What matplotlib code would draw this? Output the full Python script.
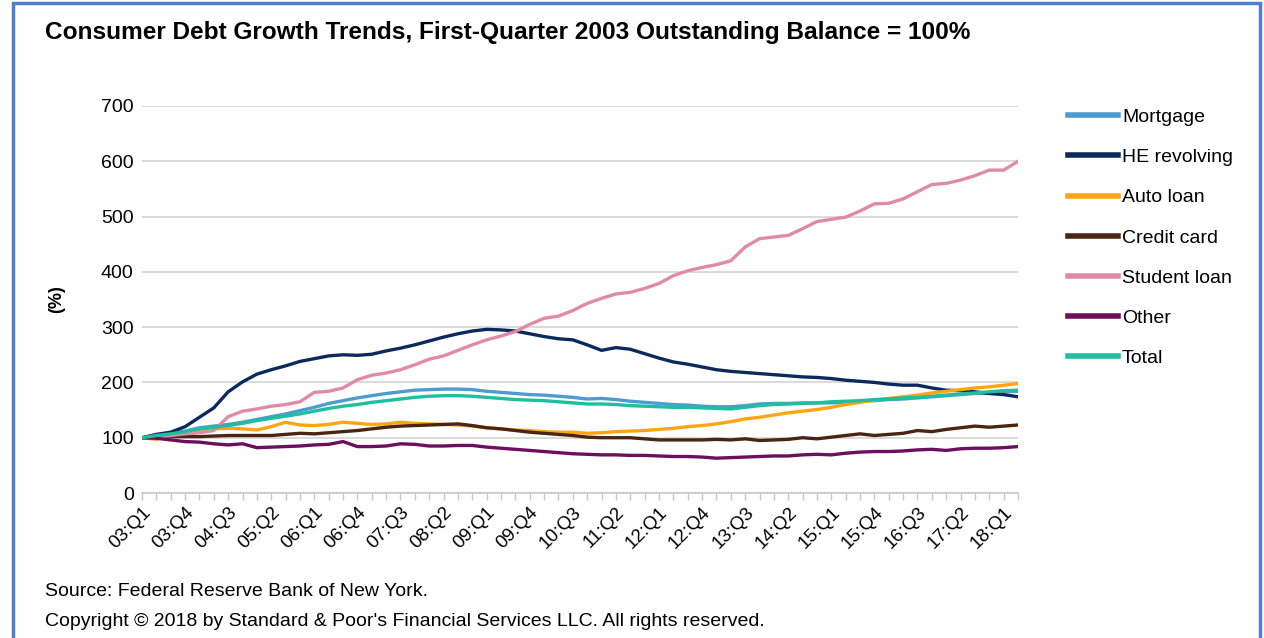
import matplotlib
matplotlib.use("Agg")
import matplotlib.pyplot as plt
from matplotlib.patches import Rectangle

plt.rcParams['font.family'] = ['Liberation Sans', 'DejaVu Sans']

# quarters 03:Q1 .. 18:Q2
quarters = [f"{y:02d}:Q{q}" for y in range(3, 19) for q in range(1, 5)][:62]

mortgage = [100, 104, 108, 112, 118, 121, 124, 128, 133, 138, 143, 149, 155, 162, 167, 172,
            176, 180, 183, 186, 187, 188, 188, 187, 184, 182, 180, 178, 177, 175, 173, 170,
            171, 169, 166, 164, 162, 160, 159, 157, 156, 156, 158, 161, 162, 162, 163, 163,
            163, 164, 166, 167, 169, 170, 172, 174, 176, 178, 180, 181, 183, 184]
he_revolving = [100, 106, 110, 120, 137, 154, 183, 201, 215, 223, 230, 238, 243, 248, 250, 249,
                251, 257, 262, 268, 275, 282, 288, 293, 296, 295, 293, 288, 283, 279, 277, 268,
                258, 263, 260, 252, 244, 237, 233, 228, 223, 220, 218, 216, 214, 212, 210, 209,
                207, 204, 202, 200, 197, 195, 195, 190, 186, 185, 183, 180, 178, 174]
auto_loan = [100, 97, 104, 108, 113, 116, 117, 116, 114, 120, 128, 123, 122, 124, 128, 126,
             124, 125, 128, 126, 125, 124, 123, 121, 118, 116, 114, 113, 111, 110, 110, 108,
             109, 111, 112, 113, 115, 117, 120, 122, 125, 129, 134, 137, 141, 145, 148, 151,
             155, 160, 164, 168, 171, 174, 177, 181, 184, 187, 190, 192, 195, 198]
credit_card = [100, 101, 102, 102, 102, 103, 104, 104, 104, 104, 106, 108, 107, 109, 111, 113,
               116, 119, 121, 122, 123, 124, 125, 122, 118, 116, 113, 110, 108, 106, 104, 101,
               100, 100, 100, 98, 96, 96, 96, 96, 97, 96, 98, 95, 96, 97, 100, 98,
               101, 104, 107, 104, 106, 108, 113, 111, 115, 118, 121, 119, 121, 123]
student_loan = [100, 101, 104, 107, 109, 113, 138, 148, 152, 157, 160, 165, 182, 184, 190, 205,
                213, 217, 223, 232, 242, 248, 258, 268, 277, 284, 292, 305, 316, 320, 330, 343,
                352, 360, 363, 370, 379, 393, 402, 408, 413, 420, 445, 460, 463, 466, 478, 491,
                495, 499, 510, 523, 524, 532, 545, 558, 560, 566, 574, 584, 584, 600]
other = [100, 99, 96, 93, 92, 89, 87, 89, 82, 83, 84, 85, 87, 88, 93, 84,
         84, 85, 89, 88, 85, 85, 86, 86, 83, 81, 79, 77, 75, 73, 71, 70,
         69, 69, 68, 68, 67, 66, 66, 65, 63, 64, 65, 66, 67, 67, 69, 70,
         69, 72, 74, 75, 75, 76, 78, 79, 77, 80, 81, 81, 82, 84]
total = [100, 104, 107, 111, 116, 119, 122, 126, 131, 135, 139, 143, 148, 153, 157, 160,
         164, 167, 170, 173, 175, 176, 176, 175, 173, 171, 169, 168, 167, 165, 163, 161,
         161, 160, 158, 157, 156, 155, 155, 154, 153, 152, 155, 158, 160, 161, 162, 163,
         165, 166, 167, 169, 170, 172, 173, 175, 177, 179, 181, 183, 185, 186]

series = [("Mortgage", mortgage, "#4f9bd0"),
          ("HE revolving", he_revolving, "#0b2a5c"),
          ("Auto loan", auto_loan, "#ffa514"),
          ("Credit card", credit_card, "#4a2511"),
          ("Student loan", student_loan, "#e08aa8"),
          ("Other", other, "#6b0f5e"),
          ("Total", total, "#1dbf9f")]

fig = plt.figure(figsize=(12.64, 6.38), dpi=100)
ax = fig.add_axes([142 / 1264, 1 - 493 / 638, 876 / 1264, 387 / 638])

x = list(range(len(quarters)))
for name, vals, col in series:
    ax.plot(x, vals, color=col, lw=2.4, label=name)

ax.set_xlim(0, len(quarters) - 1)
ax.set_ylim(0, 700)
ax.set_yticks(range(0, 701, 100))
ax.grid(axis='y', color='#d4d4d4', lw=1.2)
ax.set_axisbelow(True)
for s in ['top', 'right', 'left']:
    ax.spines[s].set_visible(False)
ax.spines['bottom'].set_color('#c8c8c8')
ax.spines['bottom'].set_linewidth(1.2)
ax.tick_params(axis='y', length=0, labelsize=14, pad=6)
ax.set_xticks(x)
ax.set_xticklabels([q if i % 3 == 0 else '' for i, q in enumerate(quarters)],
                   rotation=45, ha='right', rotation_mode='anchor', fontsize=13.5)
ax.tick_params(axis='x', length=5, color='#c8c8c8', width=1, pad=3)
ax.set_ylabel("(%)", fontsize=13, fontweight='bold', labelpad=26)

fig.text(45 / 1264, 1 - 32 / 638, "Consumer Debt Growth Trends, First-Quarter 2003 Outstanding Balance = 100%",
         fontsize=17.6, fontweight='bold', va='center', ha='left')
fig.text(45 / 1264, 1 - 592 / 638, "Source: Federal Reserve Bank of New York.",
         fontsize=14, va='center', ha='left')
fig.text(45 / 1264, 1 - 621 / 638,
         "Copyright \u00a9 2018 by Standard & Poor's Financial Services LLC. All rights reserved.",
         fontsize=14, va='center', ha='left')

fig.legend(loc='upper left', bbox_to_anchor=(1050 / 1264, 1 - 91 / 638), frameon=False,
           fontsize=14, handlelength=2.6, handletextpad=0.2, labelspacing=1.16)
for line in fig.legends[0].get_lines():
    line.set_linewidth(4)

# blue frame of the screenshot
fig.patches.append(Rectangle((13 / 1264, -0.1), 1247 / 1264, 1.1 - 3 / 638,
                             transform=fig.transFigure, fill=False,
                             edgecolor='#4f7fcf', lw=2.5))

fig.savefig("out.png", dpi=100)
